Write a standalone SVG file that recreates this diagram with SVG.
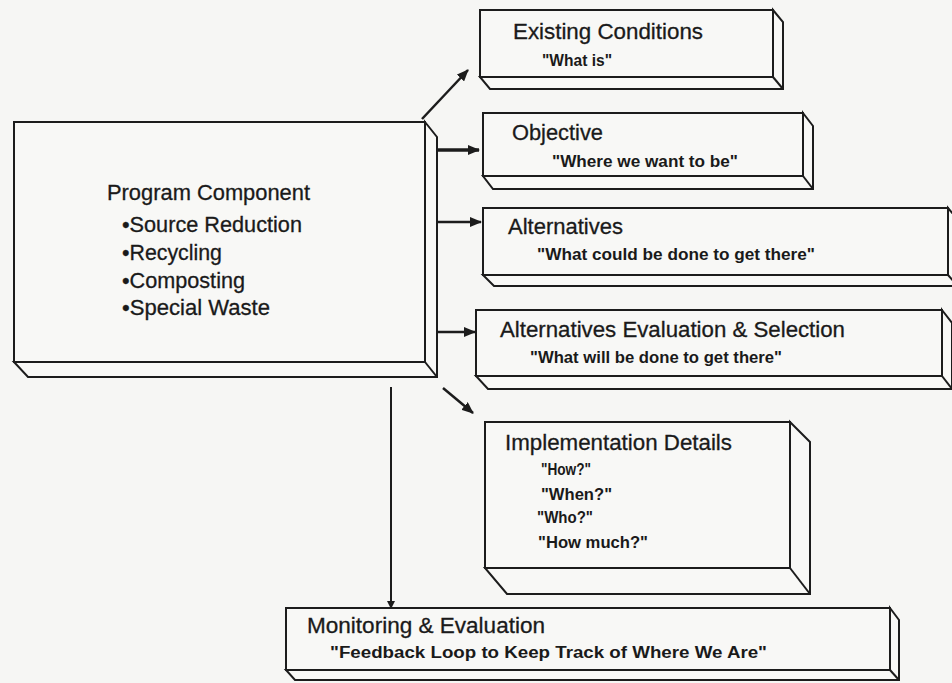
<svg xmlns="http://www.w3.org/2000/svg" width="952" height="683" viewBox="0 0 952 683">
<style>
.bg{fill:#f6f6f4}
.face{fill:#f8f8f6;stroke:#1c1c1c;stroke-width:2}
.side{fill:#f8f8f6;stroke:#1c1c1c;stroke-width:2;stroke-linejoin:miter}
.edge{stroke:#1c1c1c;stroke-width:2;fill:none}
.title{font-family:"Liberation Sans",Arial,sans-serif;font-size:22px;fill:#1a1a1a;stroke:#1a1a1a;stroke-width:0.3}
.sub{font-family:"Liberation Sans",Arial,sans-serif;font-size:16px;font-weight:bold;fill:#1a1a1a}
.conn{stroke:#1c1c1c;stroke-width:2.5;fill:none}
.thin{stroke:#1c1c1c;stroke-width:2;fill:none}
</style>
<defs>
<marker id="ah" markerUnits="userSpaceOnUse" markerWidth="12" markerHeight="10" refX="11" refY="5" orient="auto">
<path d="M0,0 L12,5 L0,10 z" fill="#1c1c1c"/>
</marker>
<marker id="ahs" markerUnits="userSpaceOnUse" markerWidth="8" markerHeight="8" refX="7" refY="4" orient="auto">
<path d="M0,0 L8,4 L0,8 z" fill="#1c1c1c"/>
</marker>
</defs>
<rect class="bg" x="0" y="0" width="952" height="683"/>

<g id="connectors">
<line class="conn" x1="422" y1="119" x2="468" y2="70" marker-end="url(#ah)"/>
<line class="conn" x1="437" y1="150" x2="479" y2="150" marker-end="url(#ah)" style="stroke-width:3.5"/>
<line class="conn" x1="437" y1="222" x2="481" y2="222" marker-end="url(#ah)"/>
<line class="conn" x1="437" y1="332" x2="475" y2="332" marker-end="url(#ah)"/>
<line class="conn" x1="443" y1="388" x2="473" y2="413" marker-end="url(#ah)"/>
<line class="thin" x1="391" y1="387" x2="391" y2="608" marker-end="url(#ahs)"/>
</g>

<g id="program-component">
<polygon class="side" points="425,122 437,137 437,377 28,377 14,362 425,362"/>
<rect class="face" x="14" y="122" width="411" height="240"/>
<line class="edge" x1="425" y1="362" x2="437" y2="377"/>
<text class="title" x="107" y="200" textLength="203" lengthAdjust="spacingAndGlyphs">Program Component</text>
<text class="title" x="122" y="232" textLength="180" lengthAdjust="spacingAndGlyphs">•Source Reduction</text>
<text class="title" x="122" y="260" textLength="100" lengthAdjust="spacingAndGlyphs">•Recycling</text>
<text class="title" x="122" y="288" textLength="123" lengthAdjust="spacingAndGlyphs">•Composting</text>
<text class="title" x="122" y="315" textLength="148" lengthAdjust="spacingAndGlyphs">•Special Waste</text>
</g>

<g id="existing-conditions">
<polygon class="side" points="773,10 783,22 783,89 490,89 480,77 773,77"/>
<rect class="face" x="480" y="10" width="293" height="67"/>
<line class="edge" x1="773" y1="77" x2="783" y2="89"/>
<text class="title" x="513" y="39" textLength="190" lengthAdjust="spacingAndGlyphs">Existing Conditions</text>
<text class="sub" x="542" y="66" textLength="70" lengthAdjust="spacingAndGlyphs">"What is"</text>
</g>

<g id="objective">
<polygon class="side" points="803,113 813,126 813,189 493,189 483,176 803,176"/>
<rect class="face" x="483" y="113" width="320" height="63"/>
<line class="edge" x1="803" y1="176" x2="813" y2="189"/>
<text class="title" x="512" y="140" textLength="91" lengthAdjust="spacingAndGlyphs">Objective</text>
<text class="sub" x="552" y="167" textLength="186" lengthAdjust="spacingAndGlyphs">"Where we want to be"</text>
</g>

<g id="alternatives">
<polygon class="side" points="948,208 958,220 958,286 494,286 483,275 948,275"/>
<rect class="face" x="483" y="208" width="465" height="67"/>
<line class="edge" x1="948" y1="275" x2="958" y2="286"/>
<text class="title" x="508" y="234" textLength="115" lengthAdjust="spacingAndGlyphs">Alternatives</text>
<text class="sub" x="537" y="260" textLength="278" lengthAdjust="spacingAndGlyphs">"What could be done to get there"</text>
</g>

<g id="alternatives-evaluation">
<polygon class="side" points="942,310 952,323 952,389 488,389 476,376 942,376"/>
<rect class="face" x="476" y="310" width="466" height="66"/>
<line class="edge" x1="942" y1="376" x2="952" y2="389"/>
<text class="title" x="500" y="337" textLength="345" lengthAdjust="spacingAndGlyphs">Alternatives Evaluation &amp; Selection</text>
<text class="sub" x="530" y="363" textLength="252" lengthAdjust="spacingAndGlyphs">"What will be done to get there"</text>
</g>

<g id="implementation-details">
<polygon class="side" points="790,422 810,442 810,594 507,594 485,568 790,568"/>
<rect class="face" x="485" y="422" width="305" height="146"/>
<line class="edge" x1="790" y1="568" x2="810" y2="594"/>
<text class="title" x="505" y="450" textLength="227" lengthAdjust="spacingAndGlyphs">Implementation Details</text>
<text class="sub" x="541" y="475" textLength="50" lengthAdjust="spacingAndGlyphs">"How?"</text>
<text class="sub" x="541" y="500" textLength="71" lengthAdjust="spacingAndGlyphs">"When?"</text>
<text class="sub" x="537" y="523" textLength="56" lengthAdjust="spacingAndGlyphs">"Who?"</text>
<text class="sub" x="538" y="548" textLength="110" lengthAdjust="spacingAndGlyphs">"How much?"</text>
</g>

<g id="monitoring-evaluation">
<polygon class="side" points="890,608 899,620 899,680 295,680 286,670 890,670"/>
<rect class="face" x="286" y="608" width="604" height="62"/>
<line class="edge" x1="890" y1="670" x2="899" y2="680"/>
<text class="title" x="307" y="633" textLength="238" lengthAdjust="spacingAndGlyphs">Monitoring &amp; Evaluation</text>
<text class="sub" x="330" y="658" textLength="437" lengthAdjust="spacingAndGlyphs">"Feedback Loop to Keep Track of Where We Are"</text>
</g>
</svg>
